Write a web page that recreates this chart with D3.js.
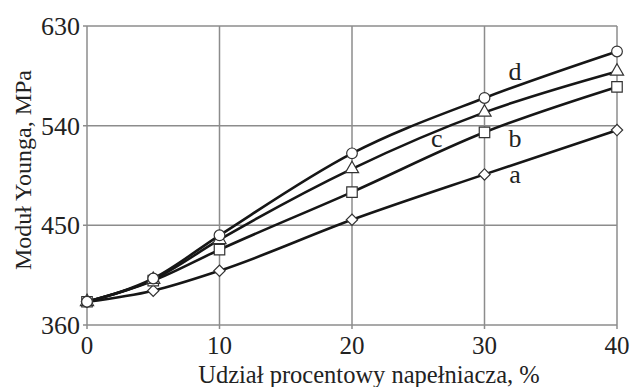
<!DOCTYPE html>
<html><head><meta charset="utf-8">
<script src="https://cdn.jsdelivr.net/npm/d3@7"></script>
<style>body{margin:0;background:#fff}svg{display:block}</style>
</head><body><svg id="c" width="630" height="387"></svg>
<script>
const xValues = [0, 5, 10, 20, 30, 40];
const seriesA = [381, 391, 409, 455, 496, 536];
const seriesB = [381, 400, 428, 480, 534, 575];
const seriesC = [381, 401, 437, 501, 552, 589];
const seriesD = [381, 402, 441, 515, 565, 607];
const seriesNames = ["a", "b", "c", "d"];
const markers = ["diamond", "square", "triangle", "circle"];
const xTicks = [0, 10, 20, 30, 40];
const yTicks = [360, 450, 540, 630];
const labelPos = [[32.3, 488], [32.3, 521], [26.4, 521], [32.3, 581]]; // letter anchor [x, y] in data units

const svg = d3.select("#c");
const m = {l: 87, r: 13, t: 26, b: 62};
const W = 630, H = 387;
const x = d3.scaleLinear().domain([0, 40]).range([m.l, W - m.r]);
const y = d3.scaleLinear().domain([360, 630]).range([H - m.b, m.t]);
const font = "'Liberation Serif', 'Times New Roman', serif";
const grid = "#8c8c8c";
const ink = "#222";

svg.append("g").selectAll("line").data(xTicks).join("line")
  .attr("x1", d => x(d)).attr("x2", d => x(d)).attr("y1", y(630)).attr("y2", y(360) + 4)
  .attr("stroke", grid).attr("stroke-width", 1.5);
svg.append("g").selectAll("line").data(yTicks).join("line")
  .attr("x1", x(0) - 4).attr("x2", x(40)).attr("y1", d => y(d)).attr("y2", d => y(d))
  .attr("stroke", grid).attr("stroke-width", 1.5);

svg.append("g").selectAll("text").data(yTicks).join("text")
  .attr("x", x(0) - 7).attr("y", d => y(d) + 9).attr("text-anchor", "end")
  .attr("font-family", font).attr("font-size", 26).attr("fill", ink).text(d => d);
svg.append("g").selectAll("text").data(xTicks).join("text")
  .attr("x", d => x(d)).attr("y", 354).attr("text-anchor", "middle")
  .attr("font-family", font).attr("font-size", 25).attr("fill", ink).text(d => d);

svg.append("text").attr("x", 369).attr("y", 383).attr("text-anchor", "middle")
  .attr("font-family", font).attr("font-size", 24.5).attr("fill", ink)
  .text("Udział procentowy napełniacza, %");
svg.append("text").attr("transform", "translate(31,170) rotate(-90)").attr("text-anchor", "middle")
  .attr("font-family", font).attr("font-size", 24).attr("fill", ink)
  .text("Moduł Younga, MPa");

const all = [seriesA, seriesB, seriesC, seriesD];
const line = d3.line().x((d, i) => x(xValues[i])).y(d => y(d)).curve(d3.curveMonotoneX);
svg.append("g").selectAll("path").data(all).join("path")
  .attr("d", d => line(d)).attr("fill", "none").attr("stroke", "#161616").attr("stroke-width", 2.6);

const sym = {
  diamond: d3.symbol().type(d3.symbolSquare).size(64),
  square: d3.symbol().type(d3.symbolSquare).size(110),
  triangle: d3.symbol().type(d3.symbolTriangle).size(75),
  circle: d3.symbol().type(d3.symbolCircle).size(90)
};
all.forEach((s, k) => {
  svg.append("g").selectAll("path").data(s).join("path")
    .attr("d", sym[markers[k]]())
    .attr("transform", (d, i) => `translate(${x(xValues[i])},${y(d)})` + (markers[k] === "diamond" ? " rotate(45)" : ""))
    .attr("fill", "#fff").attr("stroke", "#333").attr("stroke-width", 1.2);
});

svg.append("g").selectAll("text").data(seriesNames).join("text")
  .attr("x", (d, i) => x(labelPos[i][0])).attr("y", (d, i) => y(labelPos[i][1]))
  .attr("text-anchor", "middle").attr("font-family", font).attr("font-size", 26).attr("fill", ink)
  .text(d => d);
</script></body></html>
